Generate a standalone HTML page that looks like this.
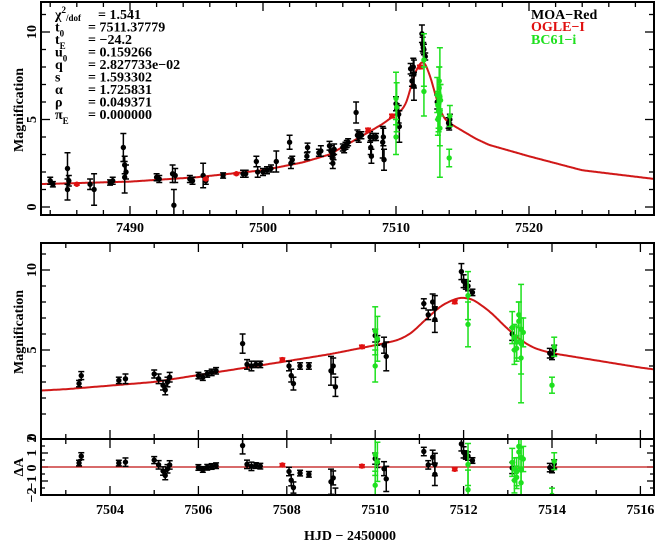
<!DOCTYPE html>
<html><head><meta charset="utf-8"><style>
html,body{margin:0;padding:0;background:#fff;width:658px;height:542px;overflow:hidden}
svg{display:block}
text{font-family:"Liberation Serif",serif;font-weight:bold;fill:#000}
</style></head><body>
<svg id="s" width="658" height="542" xmlns="http://www.w3.org/2000/svg"></svg>
<script>
const S=document.getElementById('s');let h='';
const K=[[7478,1.2],[7490,1.45],[7495,1.7],[7500,2.1],[7503,2.55],[7505,3.0],[7508,4.3],[7509,4.75],[7510,5.3],[7510.5,5.6],[7510.8,6.0],[7511.1,6.8],[7511.5,7.8],[7511.9,8.3],[7512.2,8.2],[7512.6,7.4],[7513,6.3],[7513.3,5.6],[7513.6,5.1],[7514,4.8],[7515,4.35],[7516,3.9],[7517,3.55],[7520,2.9],[7524,2.1],[7530,1.55]];
function lin(t){for(let i=0;i<K.length-1;i++){if(t<=K[i+1][0]){const a=K[i],b=K[i+1],f=(t-a[0])/(b[0]-a[0]);return a[1]+f*(b[1]-a[1]);}}return K[K.length-1][1];}
function model(t){let s=0,n=0;for(let k=-6;k<=6;k++){const w=Math.exp(-k*k/12);s+=w*lin(t+k*0.04);n+=w;}return s/n;}
const TX=t=>130+(t-7490)*13.3, TY=m=>207-m*17.5;
const MX=t=>110+(t-7504)*44.2, MY=m=>430-m*16;
const RY=r=>467-r*14;
const B='#000',G='#1ee01e',R='#e01010';
const D=[
[7484,1.5,.2,B],[7484.2,1.3,.15,B],[7485.3,2.2,.9,B],[7485.4,1.5,.3,B],[7485.3,1.0,.6,B],[7487,1.3,.3,B],[7487.3,1.0,.9,B],[7488.5,1.4,.15,B],[7488.7,1.5,.2,B],
[7489.5,3.4,.8,B],[7489.6,2.4,.5,B],[7489.7,2.0,.4,B],[7489.6,1.7,.9,B],[7492,1.7,.2,B],[7492.2,1.6,.2,B],[7493.2,1.9,.5,B],[7493.3,0.1,.9,B],[7493.4,1.8,.4,B],[7494.5,1.6,.2,B],[7494.7,1.5,.2,B],[7495.5,1.8,.7,B],[7495.7,1.5,.2,B],[7497,1.8,.15,B],[7498.5,1.9,.2,B],[7498.7,1.9,.2,B],[7499.5,2.6,.3,B],[7499.6,2.0,.3,B],[7500,2.0,.2,B],[7500.3,2.1,.2,B],[7500.6,2.2,.2,B],[7501,2.6,.6,B],[7502,3.7,.4,B],[7502.1,2.5,.3,B],[7502.2,2.7,.2,B],
[7503.3,2.9,.2,B],[7503.35,3.4,.25,B],[7504.2,3.1,.2,B],[7504.35,3.2,.3,B],[7505,3.5,.25,B],[7505.1,3.2,.3,B],[7505.2,2.8,.3,B],[7505.25,2.5,.3,B],[7505.35,3.3,.3,B],[7505.3,3.0,.3,B],
[7506,3.4,.2,B],[7506.1,3.3,.2,B],[7506.2,3.5,.2,B],[7506.3,3.6,.2,B],[7506.4,3.7,.2,B],[7507,5.4,.6,B],[7507.1,4.1,.3,B],[7507.2,4.0,.3,B],[7507.3,4.1,.2,B],[7507.4,4.1,.2,B],
[7508.05,4.0,.3,B],[7508.1,3.4,.4,B],[7508.15,2.9,.4,B],[7508.3,4.0,.2,B],[7508.5,4.0,.2,B],[7509,3.7,.9,B],[7509.1,2.7,.6,B],[7509.05,4.0,.5,B],
[7510,5.9,.4,B],[7510.05,5.6,.3,B],[7510.2,5.3,.5,B],[7510.25,4.6,.9,B],[7511.1,7.9,.3,B],[7511.2,7.2,.3,B],[7511.3,8.0,.5,B],[7511.35,7.6,.8,B],[7511.35,6.9,.8,B],
[7511.95,9.9,.5,B],[7512,9.3,.4,B],[7512.05,9.1,.3,B],[7512.1,9.0,.3,B],[7512.2,8.6,.2,B],[7513.1,6.0,.4,B],[7513.95,4.8,.3,B],[7514,4.6,.2,B],[7514.05,5.0,.3,B],
[7507.9,4.4,.1,R],[7509.7,5.2,.1,R],[7511.8,8.0,.1,R],[7495.7,1.6,.05,R],[7486,1.3,.05,R],[7498,1.9,.05,R],
[7510,6.2,1.5,G],[7510.05,5.7,1.4,G],[7510,4.0,1,G],[7512.1,8.4,1.5,G],[7512.1,6.6,1.4,G],
[7513.1,6.4,1,G],[7513.15,5.8,.8,G],[7513.2,5.5,1,G],[7513.25,6.8,1.2,G],[7513.3,5.4,3.7,G],[7513.3,4.5,1,G],[7513.2,5.1,.8,G],[7513.35,6.1,.9,G],[7513.25,7.2,.8,G],[7513.15,5.0,.9,G],[7513.3,6.3,.7,G],
[7514,2.8,.5,G],[7514.05,5.2,.6,G]];
function frame(x0,y0,x1,y1){h+=`<rect x="${x0}" y="${y0}" width="${x1-x0}" height="${y1-y0}" fill="none" stroke="#000" stroke-width="2"/>`;}
function ln(x1,y1,x2,y2,c='#000',w=1.3){h+=`<line x1="${x1}" y1="${y1}" x2="${x2}" y2="${y2}" stroke="${c}" stroke-width="${w}"/>`;}
function tx(x,y,s,o=''){h+=`<text x="${x}" y="${y}" ${o}>${s}</text>`;}
const L=41,Rr=654;
h+=`<defs><clipPath id="c1"><rect x="${L}" y="2" width="${Rr-L}" height="213"/></clipPath><clipPath id="c2"><rect x="${L}" y="243" width="${Rr-L}" height="196"/></clipPath><clipPath id="c3"><rect x="${L}" y="439" width="${Rr-L}" height="56"/></clipPath></defs>`;
for(let t=7484;t<=7528;t+=2){const x=TX(t),big=t%10==0;ln(x,215,x,215-(big?9:5));ln(x,2,x,2+(big?9:5));}
for(let m=0;m<=11;m++){const y=TY(m),big=m%5==0;ln(L,y,L+(big?9:5),y);ln(Rr,y,Rr-(big?9:5),y);}
for(const t of [7490,7500,7510,7520])tx(TX(t),232,t,'text-anchor="middle" font-size="14"');
for(let t=7503;t<=7516;t++){const x=MX(t),big=t%2==0;ln(x,439,x,439-(big?9:5));ln(x,243,x,243+(big?9:5));ln(x,495,x,495-(big?9:5));ln(x,439,x,439+(big?9:5));}
for(let m=1;m<=12;m++){const y=MY(m),big=m%5==0;if(y<245)continue;ln(L,y,L+(big?9:5),y);ln(Rr,y,Rr-(big?9:5),y);}
for(let r=-2;r<=2;r+=0.5){const y=RY(r);ln(L,y,L+(r%1==0?7:4),y);ln(Rr,y,Rr-(r%1==0?7:4),y);}
for(let t=7504;t<=7516;t+=2)tx(MX(t),514,t,'text-anchor="middle" font-size="14"');
tx(350,540,'HJD − 2450000','text-anchor="middle" font-size="14"');
function rt(x,y,s,fs=14){h+=`<text transform="translate(${x},${y}) rotate(-90)" text-anchor="middle" font-size="${fs}">${s}</text>`;}
rt(23,110,'Magnification');rt(23,332,'Magnification');rt(23,467,'ΔA');
rt(36,TY(10),'10');rt(36,TY(5),'5');rt(36,TY(0),'0');
rt(36,MY(10),'10');rt(36,MY(5),'5');rt(36,437,'0');
rt(36,RY(2),'2');rt(36,RY(1),'1');rt(36,RY(0)+1,'0');rt(36,RY(-1)+2,'−1');rt(36,RY(-2),'−2');
function curve(X,Y,t0,t1){let p='';for(let t=t0;t<=t1;t+=0.03)p+=(p?'L':'M')+X(t).toFixed(1)+','+Y(model(t)).toFixed(1);return p;}
function pts(X,Y,clip,res){let s=`<g clip-path="url(#${clip})">`;
 if(!res)s+=`<path d="${curve(X,Y,7482,7530)}" fill="none" stroke="#d01818" stroke-width="2"/>`;
 else s+=`<line x1="${L}" x2="${Rr}" y1="${RY(0)}" y2="${RY(0)}" stroke="#c01010" stroke-width="1.3"/>`;
 for(const d of D){const x=X(d[0]);const v=res?d[1]-model(d[0]):d[1];
  const y=res?RY(v):Y(v),ya=res?RY(v+d[2]):Y(v+d[2]),yb=res?RY(v-d[2]):Y(v-d[2]);
  s+=`<line x1="${x}" x2="${x}" y1="${ya}" y2="${yb}" stroke="${d[3]}" stroke-width="1.5"/><line x1="${x-3}" x2="${x+3}" y1="${ya}" y2="${ya}" stroke="${d[3]}" stroke-width="1.5"/><line x1="${x-3}" x2="${x+3}" y1="${yb}" y2="${yb}" stroke="${d[3]}" stroke-width="1.5"/><circle cx="${x}" cy="${y}" r="2.7" fill="${d[3]}"/>`;}
 return s+'</g>';}
h+=pts(TX,TY,'c1',false);h+=pts(MX,MY,'c2',false);h+=pts(MX,null,'c3',true);
frame(L,2,Rr,215);frame(L,243,Rr,439);frame(L,439,Rr,495);
const P=[['χ<tspan font-size="9" dy="-6">2</tspan><tspan font-size="9" dy="8">/dof</tspan>','= 1.541',98],['t<tspan font-size="9" dy="5">0</tspan>','= 7511.37779',88],['t<tspan font-size="9" dy="5">E</tspan>','= −24.2',88],['u<tspan font-size="9" dy="5">0</tspan>','= 0.159266',88],['q','= 2.827733e−02',88],['s','= 1.593302',88],['α','= 1.725831',88],['ρ','= 0.049371',88],['π<tspan font-size="9" dy="5">E</tspan>','= 0.000000',88]];
P.forEach((p,i)=>{const y=19+i*12.5;tx(55,y,p[0],'font-size="14"');tx(p[2],y,p[1],'font-size="14"');});
tx(531,19,'MOA−Red','font-size="14"');tx(531,31,'OGLE−I','font-size="14" style="fill:#e01010"');tx(531,44,'BC61−i','font-size="14" style="fill:#1ee01e"');
S.innerHTML=h;
</script>
</body></html>
